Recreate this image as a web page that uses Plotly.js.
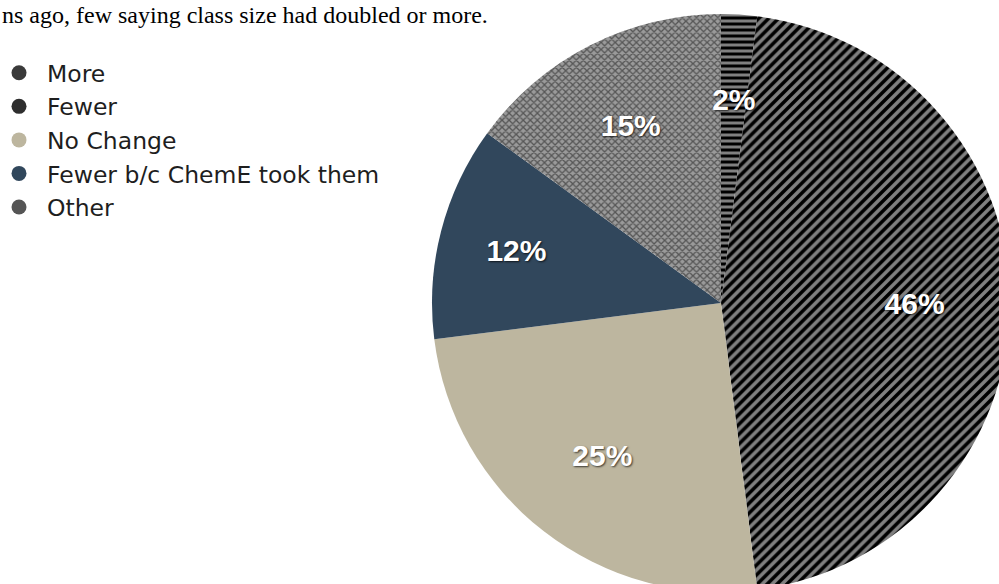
<!DOCTYPE html>
<html>
<head>
<meta charset="utf-8">
<script src="https://cdn.plot.ly/plotly-3.0.1.min.js"></script>
<style>
html, body { margin:0; padding:0; overflow:hidden; background:#fff; width:999px; height:584px; }
#chart { width:1020px; height:620px; }
</style>
</head>
<body>
<div id="chart"></div>
<script>
// Data
const categories = ["More", "Fewer", "No Change", "Fewer b/c ChemE took them", "Other"];
const values = [2, 46, 25, 12, 15];
const sliceColors = ["#000000", "#000000", "#bdb69f", "#31475c", "#9a9a9a"];
const legendColors = ["#3a3a3a", "#2e2e2e", "#bdb69f", "#31475c", "#555555"];
const patternShapes = ["-", "/", "", "", "x"];
const patternFg = ["#ffffff", "#ffffff", "#bdb69f", "#31475c", "#111111"];
const titleText = "ns ago, few saying class size had doubled or more.";

const W = 1020, H = 620;
const CX = 721, CY = 303, R = 289, RL = 217;
const pieDomain = { x: [(CX - R) / W, (CX + R) / W], y: [1 - (CY + R) / H, 1 - (CY - R) / H] };
const labelDomain = { x: [(CX - RL) / W, (CX + RL) / W], y: [1 - (CY + RL) / H, 1 - (CY - RL) / H] };

const pctFmt = "%{percent:.0%}";
const labelFont = { family: "Liberation Sans, Arial, sans-serif", size: 30, color: "#ffffff", weight: "bold",
                    shadow: "1px 1px 2px rgba(0,0,0,0.7)" };

// Filled slices
const pie = {
  type: "pie",
  labels: categories,
  values: values,
  sort: false,
  direction: "clockwise",
  rotation: 0,
  showlegend: false,
  textinfo: "none",
  hoverinfo: "label+percent",
  marker: {
    colors: sliceColors,
    line: { width: 0 },
    pattern: {
      shape: patternShapes,
      fillmode: "overlay",
      fgcolor: patternFg,
      size: [6, 7, 8, 8, 5],
      solidity: [0.5, 0.5, 0.3, 0.3, 0.45]
    }
  },
  domain: pieDomain
};

// Transparent rings carrying the percentage labels at about 2/3 of the radius
function labelRing(hole, domain, showIdx) {
  return {
    type: "pie",
    labels: categories,
    values: values,
    sort: false,
    direction: "clockwise",
    rotation: 0,
    hole: hole,
    showlegend: false,
    texttemplate: categories.map((c, i) => showIdx.includes(i) ? pctFmt : ""),
    textposition: "inside",
    insidetextorientation: "horizontal",
    hoverinfo: "skip",
    textfont: labelFont,
    marker: { colors: categories.map(() => "rgba(0,0,0,0)"), line: { width: 0 } },
    domain: domain
  };
}
const ringWide = labelRing(0.34, pieDomain, [1, 2, 3, 4]);
const ringThin = labelRing(0.8, labelDomain, [0]);

const legendTraces = categories.map((c, i) => ({
  type: "scatter",
  mode: "markers",
  x: [null], y: [null],
  name: c,
  marker: { symbol: "circle", size: 15, color: legendColors[i] },
  showlegend: true,
  hoverinfo: "skip"
}));

const layout = {
  width: W, height: H,
  margin: { l: 0, r: 0, t: 0, b: 0, autoexpand: false },
  paper_bgcolor: "#ffffff",
  plot_bgcolor: "#ffffff",
  xaxis: { visible: false },
  yaxis: { visible: false },
  showlegend: true,
  uniformtext: { mode: "show", minsize: 30 },
  legend: {
    x: -9 / W, xanchor: "left",
    y: 1 - 51 / H, yanchor: "top",
    itemwidth: 46,
    font: { family: "DejaVu Sans, Liberation Sans, sans-serif", size: 23.5, color: "#1e1e1e" },
    bgcolor: "rgba(0,0,0,0)",
    tracegroupgap: 0,
    itemclick: false
  },
  annotations: [{
    text: titleText,
    xref: "paper", yref: "paper",
    x: 0, xanchor: "left",
    y: 1, yanchor: "top",
    showarrow: false,
    font: { family: "Liberation Serif, Times New Roman, serif", size: 24, color: "#000000" }
  }]
};

Plotly.newPlot("chart", [pie, ringWide, ringThin].concat(legendTraces), layout, { staticPlot: true, displayModeBar: false });
</script>
</body>
</html>
